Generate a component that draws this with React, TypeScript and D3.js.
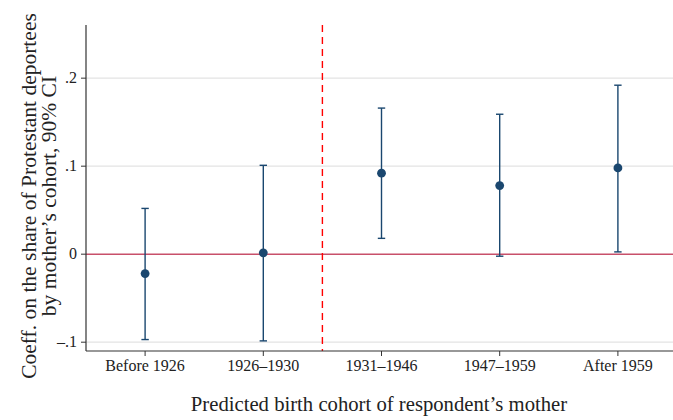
import React from "react";
import * as d3 from "d3";

const categories = ["Before 1926", "1926–1930", "1931–1946", "1947–1959", "After 1959"];
const estimates = [-0.022, 0.0015, 0.092, 0.078, 0.098];
const lowerCI = [-0.097, -0.0985, 0.018, -0.0023, 0.0026];
const upperCI = [0.052, 0.101, 0.166, 0.159, 0.192];
const yTicks = [-0.1, 0, 0.1, 0.2];
const yTickLabels = ["–.1", "0", ".1", ".2"];
const cutoffPosition = 2.5;

const W = 673;
const H = 420;
const left = 86;
const right = 677;
const top = 25;
const bottom = 351;

export default function App() {
  const x = d3.scaleLinear().domain([0.5, 5.5]).range([left, right]);
  const y = d3.scaleLinear().domain([-0.11, 0.2604]).range([bottom, top]);
  const navy = "#1a476f";
  const font = "'Liberation Serif', 'Times New Roman', serif";
  return (
    <svg width={W} height={H} style={{ position: "absolute", left: 0, top: 0, background: "#fff" }}>
      <rect x={0} y={0} width={W} height={H} fill="#fff" />
      {yTicks.map((t, i) => (
        <g key={i}>
          {t !== 0 && (
            <line x1={left} x2={right} y1={y(t)} y2={y(t)} stroke="#e3e3e3" strokeWidth={1.2} />
          )}
          <line x1={left - 5} x2={left} y1={y(t)} y2={y(t)} stroke="#333" strokeWidth={1} />
          <text x={left - 9} y={y(t)} dy="0.33em" textAnchor="end" fontFamily={font} fontSize={16} fill="#222">
            {yTickLabels[i]}
          </text>
        </g>
      ))}
      <line x1={left} x2={right} y1={y(0)} y2={y(0)} stroke="#c8506a" strokeWidth={1.6} />
      <line
        x1={x(cutoffPosition)}
        x2={x(cutoffPosition)}
        y1={top}
        y2={bottom}
        stroke="#ff0000"
        strokeWidth={1.4}
        strokeDasharray="7,5"
      />
      {categories.map((c, i) => {
        const cx = x(i + 1);
        return (
          <g key={c}>
            <line x1={cx} x2={cx} y1={y(lowerCI[i])} y2={y(upperCI[i])} stroke={navy} strokeWidth={1.4} />
            <line x1={cx - 3.7} x2={cx + 3.7} y1={y(lowerCI[i])} y2={y(lowerCI[i])} stroke={navy} strokeWidth={1.4} />
            <line x1={cx - 3.7} x2={cx + 3.7} y1={y(upperCI[i])} y2={y(upperCI[i])} stroke={navy} strokeWidth={1.4} />
            <circle cx={cx} cy={y(estimates[i])} r={4.4} fill={navy} />
            <line x1={cx} x2={cx} y1={bottom} y2={bottom + 5} stroke="#333" strokeWidth={1} />
            <text x={cx} y={bottom + 20} textAnchor="middle" fontFamily={font} fontSize={16} fill="#222">
              {c}
            </text>
          </g>
        );
      })}
      <line x1={left} x2={left} y1={top} y2={bottom} stroke="#333" strokeWidth={1.2} />
      <line x1={left} x2={right} y1={bottom} y2={bottom} stroke="#333" strokeWidth={1.2} />
      <text x={379} y={411} textAnchor="middle" fontFamily={font} fontSize={20.7} fill="#222">
        Predicted birth cohort of respondent’s mother
      </text>
      <g transform={`translate(0, 196) rotate(-90)`}>
        <text x={0} y={36} textAnchor="middle" fontFamily={font} fontSize={21.5} fill="#222">
          Coeff. on the share of Protestant deportees
        </text>
        <text x={0} y={56} textAnchor="middle" fontFamily={font} fontSize={21.5} fill="#222">
          by mother’s cohort, 90% CI
        </text>
      </g>
    </svg>
  );
}
